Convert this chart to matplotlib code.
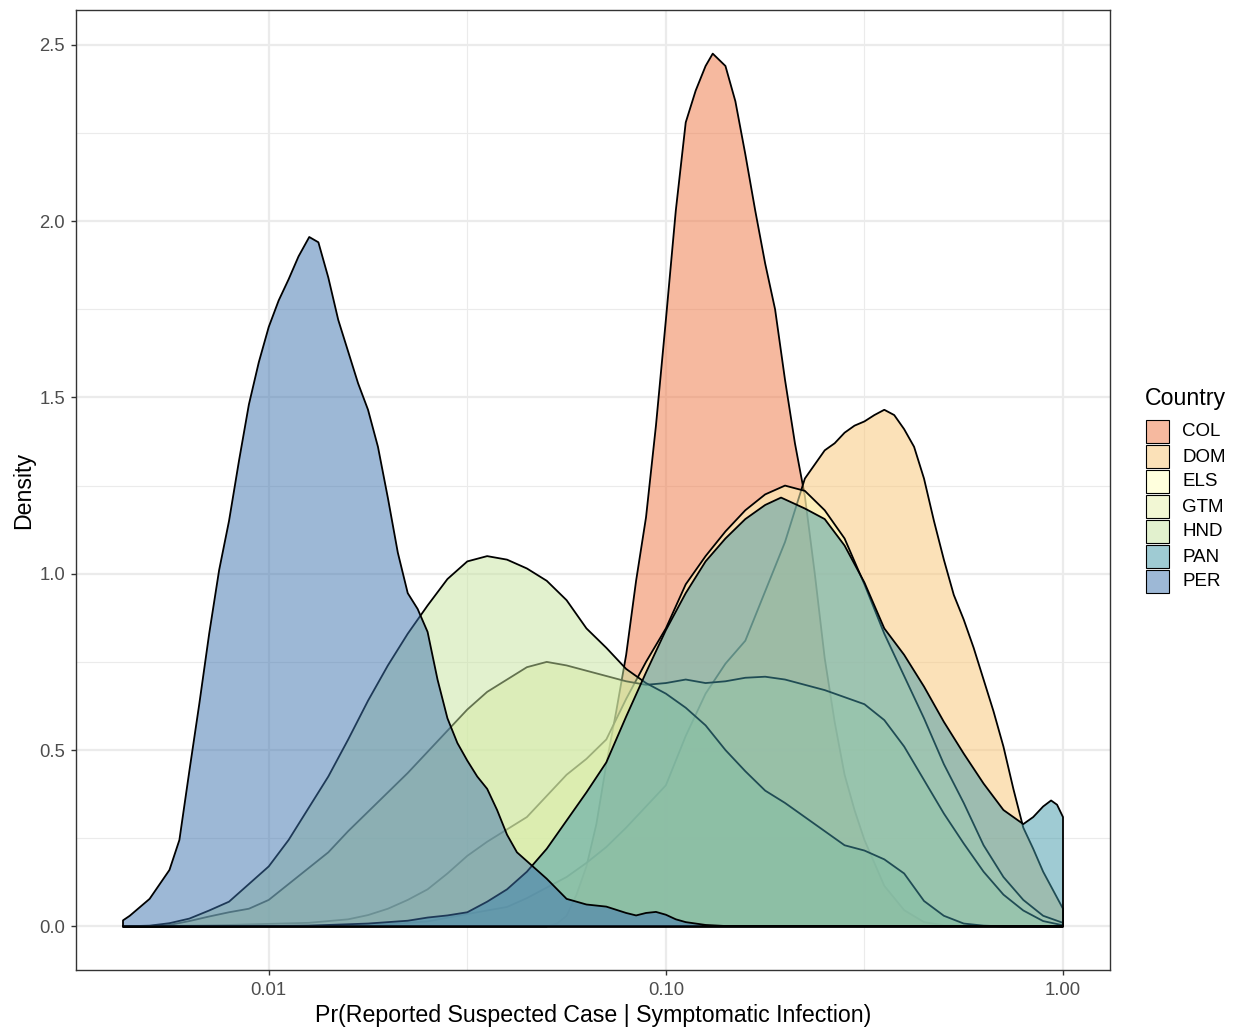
import numpy as np
import matplotlib
matplotlib.use("Agg")
import matplotlib.pyplot as plt
from matplotlib.patches import Rectangle
from matplotlib.ticker import FixedLocator, FixedFormatter, NullFormatter
from matplotlib.colors import to_rgb

plt.rcParams['font.family'] = ['Liberation Sans', 'DejaVu Sans']

# ---------------- data (log10 of probability, density) ----------------
countries = ["COL", "DOM", "ELS", "GTM", "HND", "PAN", "PER"]
fill_colors = ["#EF7541", "#F9C573", "#FFFFBD", "#E7F1AB", "#C7E59F", "#4199A9", "#3D73AF"]
fill_alpha = 0.5

col_log10_p = [-2.367, -1.30, -1.274, -1.25, -1.225, -1.20, -1.175, -1.15, -1.125, -1.10,
               -1.075, -1.05, -1.025, -1.00, -0.975, -0.95, -0.925, -0.90, -0.882, -0.85,
               -0.825, -0.80, -0.775, -0.75, -0.725, -0.70, -0.675, -0.65, -0.625, -0.60,
               -0.575, -0.55, -0.525, -0.50, -0.45, -0.40, -0.35, -0.30, 0.0]
col_density = [0, 0, 0.008, 0.03, 0.09, 0.17, 0.29, 0.46, 0.61, 0.77,
               0.98, 1.16, 1.42, 1.72, 2.03, 2.28, 2.37, 2.44, 2.475, 2.44,
               2.34, 2.19, 2.03, 1.88, 1.75, 1.55, 1.37, 1.22, 1.00, 0.76,
               0.58, 0.43, 0.33, 0.245, 0.115, 0.046, 0.012, 0.003, 0]

dom_log10_p = [-2.367, -2.2, -2.0, -1.8, -1.7, -1.6, -1.5, -1.45, -1.40, -1.35,
               -1.30, -1.25, -1.20, -1.15, -1.10, -1.05, -1.00, -0.95, -0.90, -0.85,
               -0.80, -0.75, -0.70, -0.65, -0.625, -0.60, -0.575, -0.55, -0.525, -0.50,
               -0.475, -0.45, -0.425, -0.40, -0.375, -0.35, -0.325, -0.30, -0.275, -0.25,
               -0.225, -0.20, -0.175, -0.15, -0.125, -0.10, -0.075, -0.05, 0.0]
dom_density = [0, 0, 0.001, 0.003, 0.006, 0.014, 0.035, 0.045, 0.055, 0.08,
               0.11, 0.14, 0.18, 0.225, 0.28, 0.34, 0.40, 0.54, 0.66, 0.745,
               0.81, 0.95, 1.09, 1.27, 1.31, 1.35, 1.37, 1.40, 1.42, 1.432,
               1.45, 1.465, 1.45, 1.41, 1.36, 1.27, 1.15, 1.04, 0.94, 0.87,
               0.79, 0.70, 0.61, 0.51, 0.39, 0.28, 0.22, 0.155, 0.05]

els_log10_p = [-2.367, -2.3, -2.2, -2.1, -2.0, -1.9, -1.8, -1.75, -1.70, -1.65,
               -1.60, -1.55, -1.50, -1.45, -1.40, -1.35, -1.30, -1.25, -1.20, -1.15,
               -1.10, -1.05, -1.00, -0.95, -0.90, -0.85, -0.80, -0.75, -0.70, -0.65,
               -0.60, -0.55, -0.50, -0.45, -0.40, -0.35, -0.30, -0.25, -0.20, -0.15,
               -0.10, -0.05, 0.0]
els_density = [0, 0, 0.002, 0.004, 0.007, 0.01, 0.02, 0.032, 0.05, 0.075,
               0.105, 0.15, 0.20, 0.24, 0.275, 0.31, 0.37, 0.43, 0.475, 0.53,
               0.645, 0.75, 0.845, 0.97, 1.05, 1.12, 1.18, 1.225, 1.25, 1.235,
               1.18, 1.10, 0.97, 0.83, 0.71, 0.59, 0.46, 0.35, 0.23, 0.14,
               0.075, 0.03, 0.01]

grid48_log10_p = [-2.367, -2.30, -2.25, -2.20, -2.15, -2.10, -2.05, -2.00, -1.95, -1.90,
                  -1.85, -1.80, -1.75, -1.70, -1.65, -1.60, -1.55, -1.50, -1.45, -1.40,
                  -1.35, -1.30, -1.25, -1.20, -1.15, -1.10, -1.05, -1.00, -0.95, -0.90,
                  -0.85, -0.80, -0.75, -0.70, -0.65, -0.60, -0.55, -0.50, -0.45, -0.40,
                  -0.35, -0.30, -0.25, -0.20, -0.15, -0.10, -0.05, 0.0]
gtm_density = [0, 0.001, 0.004, 0.015, 0.028, 0.04, 0.05, 0.075, 0.12, 0.165,
               0.21, 0.27, 0.325, 0.38, 0.435, 0.495, 0.555, 0.615, 0.665, 0.70,
               0.735, 0.75, 0.74, 0.725, 0.71, 0.695, 0.685, 0.69, 0.70, 0.69,
               0.695, 0.705, 0.708, 0.70, 0.685, 0.67, 0.65, 0.63, 0.585, 0.51,
               0.415, 0.32, 0.235, 0.155, 0.09, 0.045, 0.015, 0.003]
hnd_density = [0, 0.002, 0.009, 0.022, 0.045, 0.07, 0.12, 0.17, 0.245, 0.335,
               0.425, 0.53, 0.64, 0.74, 0.83, 0.91, 0.985, 1.035, 1.05, 1.04,
               1.015, 0.98, 0.925, 0.845, 0.79, 0.73, 0.69, 0.66, 0.62, 0.57,
               0.50, 0.44, 0.385, 0.35, 0.31, 0.27, 0.23, 0.215, 0.19, 0.15,
               0.072, 0.03, 0.008, 0.002, 0, 0, 0, 0]

pan_log10_p = [-2.367, -2.1, -2.0, -1.9, -1.8, -1.75, -1.70, -1.65, -1.60, -1.55,
               -1.50, -1.45, -1.40, -1.35, -1.30, -1.25, -1.20, -1.15, -1.10, -1.05,
               -1.00, -0.95, -0.90, -0.85, -0.80, -0.75, -0.71, -0.65, -0.60, -0.55,
               -0.50, -0.45, -0.40, -0.35, -0.30, -0.25, -0.20, -0.15, -0.10, -0.075,
               -0.05, -0.03, -0.015, 0.0]
pan_density = [0, 0, 0.001, 0.002, 0.006, 0.008, 0.012, 0.016, 0.025, 0.031,
               0.04, 0.07, 0.105, 0.155, 0.22, 0.30, 0.38, 0.465, 0.595, 0.72,
               0.84, 0.945, 1.035, 1.10, 1.155, 1.195, 1.216, 1.185, 1.155, 1.08,
               0.975, 0.845, 0.77, 0.68, 0.58, 0.49, 0.405, 0.33, 0.29, 0.31,
               0.34, 0.357, 0.345, 0.31]

per_log10_p = [-2.367, -2.35, -2.30, -2.25, -2.225, -2.20, -2.175, -2.15, -2.125, -2.10,
               -2.075, -2.05, -2.025, -2.00, -1.975, -1.95, -1.925, -1.898, -1.875, -1.85,
               -1.825, -1.80, -1.775, -1.75, -1.725, -1.70, -1.675, -1.65, -1.625, -1.60,
               -1.575, -1.55, -1.525, -1.50, -1.475, -1.45, -1.425, -1.40, -1.375, -1.35,
               -1.325, -1.30, -1.25, -1.20, -1.15, -1.10, -1.075, -1.05, -1.025, -1.00,
               -0.975, -0.95, -0.90, -0.85, 0.0]
per_density = [0.017, 0.03, 0.078, 0.16, 0.245, 0.44, 0.63, 0.83, 1.01, 1.15,
               1.32, 1.48, 1.60, 1.70, 1.775, 1.835, 1.90, 1.955, 1.94, 1.84,
               1.72, 1.63, 1.54, 1.465, 1.36, 1.215, 1.06, 0.945, 0.90, 0.835,
               0.70, 0.59, 0.52, 0.47, 0.425, 0.39, 0.33, 0.26, 0.21, 0.185,
               0.16, 0.135, 0.078, 0.062, 0.056, 0.038, 0.031, 0.038, 0.041, 0.033,
               0.02, 0.012, 0.004, 0.001, 0]

series = [
    (col_log10_p, col_density),
    (dom_log10_p, dom_density),
    (els_log10_p, els_density),
    (grid48_log10_p, gtm_density),
    (grid48_log10_p, hnd_density),
    (pan_log10_p, pan_density),
    (per_log10_p, per_density),
]

x_tick_values = [0.01, 0.10, 1.00]
x_tick_labels = ["0.01", "0.10", "1.00"]
y_tick_values = [0.0, 0.5, 1.0, 1.5, 2.0, 2.5]
y_tick_labels = ["0.0", "0.5", "1.0", "1.5", "2.0", "2.5"]

# ---------------- figure ----------------
W, H = 1239, 1030
fig = plt.figure(figsize=(W / 100, H / 100), dpi=100)
fig.patch.set_facecolor("white")
ax = fig.add_axes([76 / W, 1 - 970 / H, (1110 - 76) / W, (970 - 10) / H])
ax.set_facecolor("white")
ax.set_xscale("log")

for (lx, dens), col in zip(series, fill_colors):
    x = 10 ** np.asarray(lx, dtype=float)
    y = np.asarray(dens, dtype=float)
    xs = np.concatenate([x, [x[-1], x[0]]])
    ys = np.concatenate([y, [0.0, 0.0]])
    ax.fill(xs, ys, facecolor=(*to_rgb(col), fill_alpha), edgecolor="black",
            linewidth=1.3, joinstyle="round", zorder=2)

# limits with ggplot-like 5% expansion (in log space for x)
all_lx = np.concatenate([np.asarray(s[0]) for s in series])
all_y = np.concatenate([np.asarray(s[1]) for s in series])
lo, hi = all_lx.min(), all_lx.max()
ex = 0.05 * (hi - lo)
ax.set_xlim(10 ** (lo - ex), 10 ** (hi + ex))
ymax = all_y.max()
ax.set_ylim(-0.05 * ymax, ymax * 1.05)

ax.xaxis.set_major_locator(FixedLocator(x_tick_values))
ax.xaxis.set_major_formatter(FixedFormatter(x_tick_labels))
ax.xaxis.set_minor_locator(FixedLocator([10 ** -2.5, 10 ** -1.5, 10 ** -0.5]))
ax.xaxis.set_minor_formatter(NullFormatter())
ax.yaxis.set_major_locator(FixedLocator(y_tick_values))
ax.yaxis.set_major_formatter(FixedFormatter(y_tick_labels))
ax.yaxis.set_minor_locator(FixedLocator([0.25, 0.75, 1.25, 1.75, 2.25]))

ax.set_axisbelow(True)
ax.grid(which="major", color="#EBEBEB", linewidth=1.6)
ax.grid(which="minor", color="#EBEBEB", linewidth=0.8)
ax.tick_params(which="major", length=3.5, width=1.0, color="#333333",
               labelcolor="#4D4D4D", labelsize=13.3)
ax.tick_params(axis="x", which="major", pad=5)
ax.tick_params(axis="y", which="major", pad=4.5)
ax.tick_params(which="minor", length=0)
for sp in ax.spines.values():
    sp.set_color("#333333")
    sp.set_linewidth(1.0)

ax.set_xlabel("Pr(Reported Suspected Case | Symptomatic Infection)", fontsize=16.7,
              color="black", labelpad=3.5)
ax.set_ylabel("Density", fontsize=16.7, color="black", labelpad=3)

# ---------------- legend ----------------
fig.text(1145 / W, 1 - 398 / H, "Country", fontsize=16.7, ha="left", va="center")
for i, (name, col) in enumerate(zip(countries, fill_colors)):
    top = 420 + 25 * i
    rect = Rectangle((1146 / W, 1 - (top + 23) / H), 23 / W, 23 / H,
                     transform=fig.transFigure, facecolor=(*to_rgb(col), fill_alpha),
                     edgecolor="black", linewidth=0.8)
    fig.add_artist(rect)
    fig.text(1182 / W, 1 - (top + 12) / H, name, fontsize=13.5, ha="left", va="center")

fig.savefig("out.png", dpi=100)
